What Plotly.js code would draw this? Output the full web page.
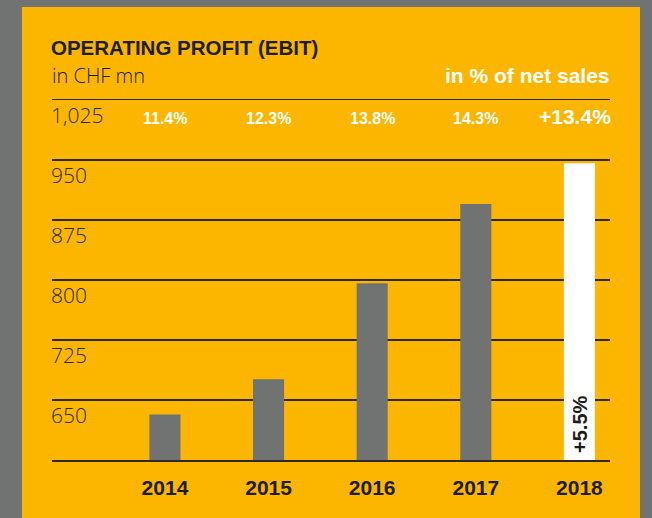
<!DOCTYPE html>
<html>
<head>
<meta charset="utf-8">
<script src="https://cdn.plot.ly/plotly-3.0.1.min.js"></script>
<style>
  html, body { margin: 0; padding: 0; background: #717372; }
  #chart { width: 652px; height: 518px; }
</style>
</head>
<body>
<div id="chart"></div>
<script>
// ---- data ----
const years = ['2014', '2015', '2016', '2017', '2018'];
const ebit = [632, 676, 796, 895, 946];
const marginLabels = ['11.4%', '12.3%', '13.8%', '14.3%', '+13.4%'];
const tickValues = [650, 725, 800, 875, 950, 1025];
const tickLabels = ['650', '725', '800', '875', '950', '1,025'];
const growthLabel = '+5.5%';
const titleText = 'OPERATING PROFIT (EBIT)';
const unitText = 'in CHF mn';
const marginHeader = 'in % of net sales';

// ---- style ----
const YELLOW = '#FCB600';
const GRAY = '#717372';
const DARK = '#1d1d1b';
const LINE = '#2e2a1e';
const BOLD = 'Liberation Sans, Arial, sans-serif';
const LIGHT = 'Open Sans, Liberation Sans, sans-serif';
const last = years.length - 1;

const trace = {
  type: 'bar',
  x: years,
  y: ebit,
  width: 0.3,
  marker: { color: years.map((_, i) => i === last ? '#ffffff' : GRAY), line: { width: 0 } },
  hoverinfo: 'skip'
};

const annotations = [];
marginLabels.forEach((t, i) => {
  const big = i === last;
  annotations.push({
    x: i, y: 1025, xref: 'x', yref: 'y',
    text: t, showarrow: false,
    xanchor: 'center', yanchor: 'middle',
    yshift: big ? -16 : -18, xshift: big ? -4 : 0,
    font: { family: BOLD, size: big ? 21 : 16, color: '#ffffff', weight: 700 }
  });
});
annotations.push({
  x: 0, y: 1.067, xref: 'paper', yref: 'paper',
  text: unitText, showarrow: false, xanchor: 'left', yanchor: 'middle', xshift: -2,
  font: { family: LIGHT, size: 20, color: DARK, weight: 300 }
});
annotations.push({
  x: 1, y: 1.067, xref: 'paper', yref: 'paper',
  text: marginHeader, showarrow: false, xanchor: 'right', yanchor: 'middle', xshift: 2,
  font: { family: BOLD, size: 21, color: '#ffffff', weight: 700 }
});
annotations.push({
  x: last, y: 575, xref: 'x', yref: 'y',
  text: growthLabel, showarrow: false, textangle: -90,
  xanchor: 'center', yanchor: 'bottom', yshift: 5,
  font: { family: BOLD, size: 20, color: DARK, weight: 700 }
});

const layout = {
  width: 652, height: 518,
  margin: { l: 52, r: 42, t: 100, b: 58, pad: 0 },
  paper_bgcolor: GRAY,
  plot_bgcolor: 'rgba(0,0,0,0)',
  showlegend: false,
  hovermode: false,
  title: {
    text: '<b>' + titleText + '</b>',
    x: 0, xref: 'paper', xanchor: 'left',
    y: 1 - 48 / 518, yref: 'container', yanchor: 'middle',
    pad: { l: -1 },
    font: { family: BOLD, size: 20.5, color: DARK }
  },
  shapes: [{
    type: 'rect', xref: 'paper', yref: 'paper', layer: 'below',
    x0: (22 - 52) / 558, x1: (640 - 52) / 558,
    y0: (460 - 530) / 360, y1: (460 - 7) / 360,
    fillcolor: YELLOW, line: { width: 0 }
  }],
  xaxis: {
    type: 'category',
    range: [-1.09, 4.295],
    showline: true, mirror: true, linecolor: LINE, linewidth: 1.5,
    showgrid: false, zeroline: false, ticks: '',
    tickfont: { family: BOLD, size: 21, color: DARK, weight: 700 },
    ticklabelstandoff: 8,
    fixedrange: true
  },
  yaxis: {
    range: [575, 1025],
    tickmode: 'array', tickvals: tickValues, ticktext: tickLabels,
    ticklabelposition: 'inside', ticklabelshift: 16, ticklabelstandoff: -4,
    ticklabeloverflow: 'allow',
    showgrid: true, gridcolor: LINE, gridwidth: 1.5,
    showline: false, zeroline: false, ticks: '',
    tickfont: { family: LIGHT, size: 21, color: '#2b2a26', weight: 300 },
    fixedrange: true
  },
  annotations: annotations
};

Plotly.newPlot('chart', [trace], layout, { staticPlot: true, displayModeBar: false });
</script>
</body>
</html>
